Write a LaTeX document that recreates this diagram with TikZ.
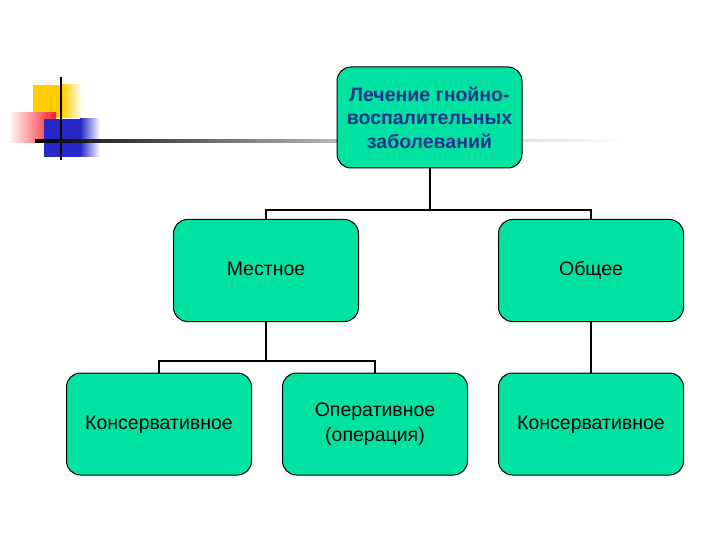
\documentclass[tikz,border=0pt]{standalone}
\usepackage{fontspec}
\setmainfont{Liberation Sans}
\definecolor{BoxGreen}{RGB}{0, 226, 162}
\definecolor{TitleBlue}{RGB}{32, 52, 140}
\definecolor{DecoYellow}{RGB}{255, 204, 0}
\definecolor{DecoRed}{RGB}{250, 30, 40}
\definecolor{DecoBlue}{RGB}{40, 40, 200}
\usetikzlibrary{positioning, calc}

\begin{document}
\begin{tikzpicture}[x=1pt, y=-1pt,
            box/.style={rectangle, rounded corners=14pt, draw=black, line width=1pt, fill=BoxGreen,
                        minimum width=185pt, minimum height=102pt, inner sep=2pt, align=center,
                        font=\fontsize{19.5}{25}\selectfont},
            onebox/.style={box, text height=14pt, text depth=4pt},
            rootbox/.style={box, minimum height=101pt, text=TitleBlue, font=\bfseries\fontsize{19.5}{23.5}\selectfont},
            link/.style={black, line width=2pt}
        ]
            \useasboundingbox (0,0) rectangle (720,540);

            % Decoration
            \fill[DecoYellow] (33,85) rectangle (62,118);
            \shade[left color=DecoYellow, right color=white] (62,85) rectangle (82,118);
            \shade[left color=white, right color=DecoRed] (8,113) rectangle (56,143);
            \fill[DecoBlue] (44,119) rectangle (80,157);
            \shade[left color=DecoBlue, right color=white] (80,119) rectangle (100,157);
            \draw[black, line width=2pt] (61,77) -- (61,160);
            \shade[left color=black, right color=gray!55] (35,139.5) rectangle (340,142.5);
            \shade[left color=gray!25, right color=white] (520,140) rectangle (625,142);

            % Row 1
            \node[rootbox] (root) at (429.5,117.5) {Лечение гнойно-\\воспалительных\\заболеваний};

            % Row 2
            \node[onebox] (local) at (266,270.5) {Местное};
            \node[onebox] (general) at (591,270.5) {Общее};

            % Row 3
            \node[onebox] (conslocal) at (159,424) {Консервативное};
            \node[box] (oper) at (375,424) {Оперативное\\(операция)};
            \node[onebox] (consgen) at (591,424) {Консервативное};

            % Links
            \coordinate (j1) at (429.5,210);
            \coordinate (j2) at (266,361);
            \draw[link] (root.south) -- (j1) -| (local.north);
            \draw[link] (j1) -| (general.north);
            \draw[link] (local.south) -- (j2) -| (conslocal.north);
            \draw[link] (j2) -| (oper.north);
            \draw[link] (general.south) -- (consgen.north);
        \end{tikzpicture}
\end{document}
